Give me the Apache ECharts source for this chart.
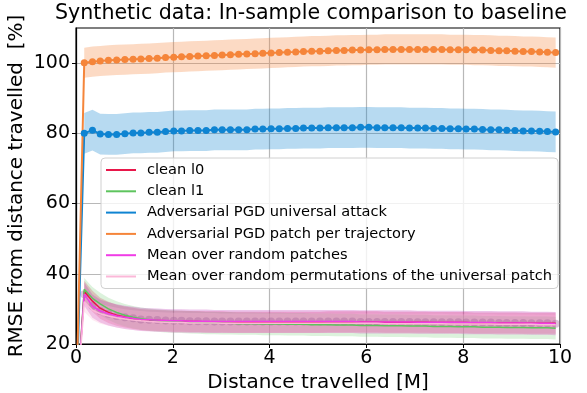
<!DOCTYPE html>
<html>
<head>
<meta charset="utf-8">
<script src="https://cdn.jsdelivr.net/npm/echarts@6/dist/echarts.min.js"></script>
<style>
    html, body { margin: 0; padding: 0; background: #fff; }
    #chart { width: 587px; height: 393px; }
</style>
</head>
<body>
<div id="chart"></div>
<script>
// distance travelled, first point is the origin
const distance = [0,
    0.17, 0.34, 0.50, 0.67, 0.84, 1.01, 1.18, 1.34, 1.51, 1.68,
    1.85, 2.02, 2.18, 2.35, 2.52, 2.69, 2.86, 3.02, 3.19, 3.36,
    3.53, 3.70, 3.86, 4.03, 4.20, 4.37, 4.54, 4.70, 4.87, 5.04,
    5.21, 5.38, 5.54, 5.71, 5.88, 6.05, 6.22, 6.38, 6.55, 6.72,
    6.89, 7.06, 7.22, 7.39, 7.56, 7.73, 7.90, 8.06, 8.23, 8.40,
    8.57, 8.74, 8.90, 9.07, 9.24, 9.41, 9.58, 9.74, 9.91];

const cleanL0 = [0,
    35.0, 32.2, 30.2, 29.0, 28.2, 27.7, 27.3, 27.0, 26.8, 26.7,
    26.6, 26.5, 26.5, 26.4, 26.4, 26.3, 26.3, 26.3, 26.2, 26.2,
    26.2, 26.2, 26.2, 26.2, 26.2, 26.2, 26.2, 26.2, 26.2, 26.2,
    26.3, 26.3, 26.3, 26.3, 26.3, 26.3, 26.3, 26.2, 26.2, 26.2,
    26.2, 26.2, 26.2, 26.1, 26.1, 26.1, 26.1, 26.1, 26.0, 26.0,
    26.0, 26.0, 26.0, 26.0, 25.9, 25.9, 25.9, 25.9, 25.9];

const cleanL1 = [0,
    35.6, 33.0, 31.4, 30.0, 29.0, 28.2, 27.6, 27.2, 26.9, 26.7,
    26.5, 26.4, 26.3, 26.2, 26.1, 26.0, 26.0, 25.9, 25.9, 25.8,
    25.8, 25.8, 25.7, 25.7, 25.7, 25.6, 25.6, 25.6, 25.5, 25.5,
    25.5, 25.4, 25.4, 25.4, 25.3, 25.3, 25.3, 25.2, 25.2, 25.2,
    25.1, 25.1, 25.1, 25.0, 25.0, 25.0, 24.9, 24.9, 24.9, 24.8,
    24.8, 24.8, 24.7, 24.7, 24.7, 24.6, 24.6, 24.6, 24.5];

const pgdUniversal = [0,
    80.0, 80.9, 79.8, 79.7, 79.7, 79.9, 80.1, 80.1, 80.3, 80.3,
    80.5, 80.7, 80.7, 80.8, 80.8, 80.8, 81.0, 81.0, 81.0, 81.0,
    81.0, 81.2, 81.2, 81.3, 81.3, 81.4, 81.4, 81.5, 81.5, 81.5,
    81.6, 81.6, 81.6, 81.6, 81.7, 81.7, 81.6, 81.6, 81.6, 81.6,
    81.5, 81.5, 81.5, 81.4, 81.4, 81.3, 81.3, 81.2, 81.2, 81.1,
    81.0, 81.0, 80.9, 80.8, 80.7, 80.7, 80.6, 80.5, 80.4];

const pgdPatch = [0,
    100.1, 100.4, 100.6, 100.8, 100.9, 101.0, 101.1, 101.2, 101.3, 101.4,
    101.6, 101.7, 101.8, 101.9, 102.0, 102.1, 102.2, 102.3, 102.4, 102.5,
    102.6, 102.7, 102.8, 102.9, 103.0, 103.1, 103.2, 103.3, 103.4, 103.4,
    103.5, 103.6, 103.6, 103.7, 103.7, 103.8, 103.8, 103.9, 103.9, 103.9,
    103.9, 103.9, 103.9, 103.9, 103.9, 103.8, 103.8, 103.8, 103.7, 103.7,
    103.6, 103.5, 103.5, 103.4, 103.3, 103.3, 103.2, 103.1, 103.0];

const randomPatches = [0,
    34.2, 30.8, 29.4, 28.6, 28.0, 27.6, 27.3, 27.0, 26.9, 26.8,
    26.7, 26.6, 26.6, 26.5, 26.5, 26.5, 26.4, 26.4, 26.4, 26.4,
    26.4, 26.4, 26.4, 26.4, 26.4, 26.4, 26.4, 26.4, 26.4, 26.4,
    26.4, 26.4, 26.4, 26.4, 26.3, 26.3, 26.3, 26.3, 26.3, 26.3,
    26.3, 26.2, 26.2, 26.2, 26.2, 26.2, 26.2, 26.1, 26.1, 26.1,
    26.1, 26.0, 26.0, 26.0, 26.0, 25.9, 25.9, 25.9, 25.8];

const randomPermutations = [0,
    32.0, 29.6, 28.6, 28.0, 27.5, 27.1, 26.8, 26.6, 26.4, 26.3,
    26.2, 26.1, 26.1, 26.0, 26.0, 26.0, 26.0, 25.9, 25.9, 25.9,
    25.9, 25.9, 25.9, 25.9, 25.9, 25.9, 25.9, 25.9, 25.9, 25.9,
    25.9, 25.9, 25.9, 25.9, 25.9, 25.9, 25.9, 25.8, 25.8, 25.8,
    25.8, 25.8, 25.8, 25.8, 25.8, 25.7, 25.7, 25.7, 25.7, 25.7,
    25.7, 25.6, 25.6, 25.6, 25.6, 25.6, 25.5, 25.5, 25.5];

// half width of the shaded bands (std)
const spreadL0 = 3.0;
const spreadL1 = 3.2;
const spreadUniversal = 5.8;
const spreadPatch = 4.3;
const spreadPatches = 3.3;
const spreadPermutations = 2.8;

const yTicks = [20, 40, 60, 80, 100];

const FONT = 'DejaVu Sans';

function pairs(values) {
    return distance.map((d, i) => [d, values[i]]);
}

function bandSeries(values, spread, color, opacity) {
    return {
        type: 'custom',
        silent: true,
        z: 1,
        data: [[distance[1], values[1]]],
        renderItem: function (params, api) {
            let upper = [], lower = [];
            for (let i = 1; i < distance.length; i++) {
                upper.push(api.coord([distance[i], values[i] + spread]));
                lower.unshift(api.coord([distance[i], values[i] - spread]));
            }
            return {
                type: 'polygon',
                shape: { points: upper.concat(lower) },
                style: { fill: color, opacity: opacity }
            };
        }
    };
}

function lineSeries(name, values, color, width, withDots) {
    return {
        name: name,
        type: 'line',
        z: 3,
        data: pairs(values),
        showSymbol: !!withDots,
        symbol: 'circle',
        symbolSize: 7,
        itemStyle: { color: color },
        lineStyle: { color: color, width: width },
        clip: true
    };
}

const NAMES = [
    'clean l0',
    'clean l1',
    'Adversarial PGD universal attack',
    'Adversarial PGD patch per trajectory',
    'Mean over random patches',
    'Mean over random permutations of the universal patch'
];
const COLORS = ['#e8174a', '#5ec45e', '#0f84d2', '#f5853a', '#f03ce6', '#fbb8d8'];

let chart = echarts.init(document.getElementById('chart'));
chart.setOption({
    animation: false,
    textStyle: { fontFamily: FONT },
    title: {
        text: 'Synthetic data: In-sample comparison to baseline',
        left: 55,
        top: 3,
        padding: 0,
        textStyle: { fontFamily: FONT, fontSize: 20.6, fontWeight: 'normal', color: '#000' }
    },
    grid: {
        left: 76, right: 27, top: 28, bottom: 49,
        outerBoundsMode: 'none',
        containLabel: false,
        show: true,
        borderColor: '#000',
        borderWidth: 1.2
    },
    legend: {
        orient: 'vertical',
        left: 101,
        top: 158,
        padding: [4, 6, 4, 5],
        itemWidth: 30,
        itemHeight: 2,
        itemGap: 5.3,
        backgroundColor: 'rgba(255,255,255,0.8)',
        borderColor: '#d0d0d0',
        borderWidth: 1,
        borderRadius: 4,
        textStyle: { fontFamily: FONT, fontSize: 14.6, color: '#000', lineHeight: 16, padding: [0, 0, 0, 6] },
        data: NAMES.map((n, i) => ({ name: n, icon: 'rect', itemStyle: { color: COLORS[i], opacity: 1 } }))
    },
    xAxis: {
        type: 'value',
        min: 0, max: 10, interval: 2,
        name: 'Distance travelled [M]',
        nameLocation: 'middle',
        nameGap: 29,
        nameMoveOverlap: false,
        nameTextStyle: { fontFamily: FONT, fontSize: 20, color: '#000' },
        axisLine: { show: true, lineStyle: { color: '#000', width: 1.2 } },
        axisTick: { show: true, inside: false, length: 4, lineStyle: { color: '#000' } },
        axisLabel: { fontFamily: FONT, fontSize: 19, color: '#000', margin: 5 },
        splitLine: { show: true, lineStyle: { color: '#b8b8b8', width: 1.2 } }
    },
    yAxis: {
        type: 'value',
        min: 20, max: 110, interval: 20,
        name: 'RMSE from distance travelled  [%]',
        nameLocation: 'middle',
        nameGap: 49,
        nameMoveOverlap: false,
        nameRotate: 90,
        nameTextStyle: { fontFamily: FONT, fontSize: 20, color: '#000' },
        axisLine: { show: true, lineStyle: { color: '#000', width: 1.2 } },
        axisTick: { show: true, inside: false, length: 4, lineStyle: { color: '#000' }, customValues: yTicks },
        axisLabel: { fontFamily: FONT, fontSize: 19, color: '#000', margin: 6, customValues: yTicks },
        splitLine: { show: true, lineStyle: { color: '#b8b8b8', width: 1.2 } }
    },
    series: [
        bandSeries(cleanL0, spreadL0, COLORS[0], 0.25),
        bandSeries(cleanL1, spreadL1, COLORS[1], 0.22),
        bandSeries(pgdUniversal, spreadUniversal, COLORS[2], 0.3),
        bandSeries(pgdPatch, spreadPatch, COLORS[3], 0.3),
        bandSeries(randomPatches, spreadPatches, '#c03cb8', 0.3),
        bandSeries(randomPermutations, spreadPermutations, COLORS[5], 0.3),
        lineSeries(NAMES[0], cleanL0, COLORS[0], 1.5, false),
        lineSeries(NAMES[1], cleanL1, COLORS[1], 1.5, false),
        lineSeries(NAMES[2], pgdUniversal, COLORS[2], 2, true),
        lineSeries(NAMES[3], pgdPatch, COLORS[3], 2, true),
        lineSeries(NAMES[4], randomPatches, COLORS[4], 1.5, false),
        lineSeries(NAMES[5], randomPermutations, COLORS[5], 1.5, false),
        {
            // faint markers of the random patch mean
            type: 'scatter',
            z: 2,
            silent: true,
            symbolSize: 8,
            data: pairs(randomPatches).slice(1),
            itemStyle: { color: '#9a5a94', opacity: 0.35 }
        }
    ]
});
</script>
</body>
</html>
